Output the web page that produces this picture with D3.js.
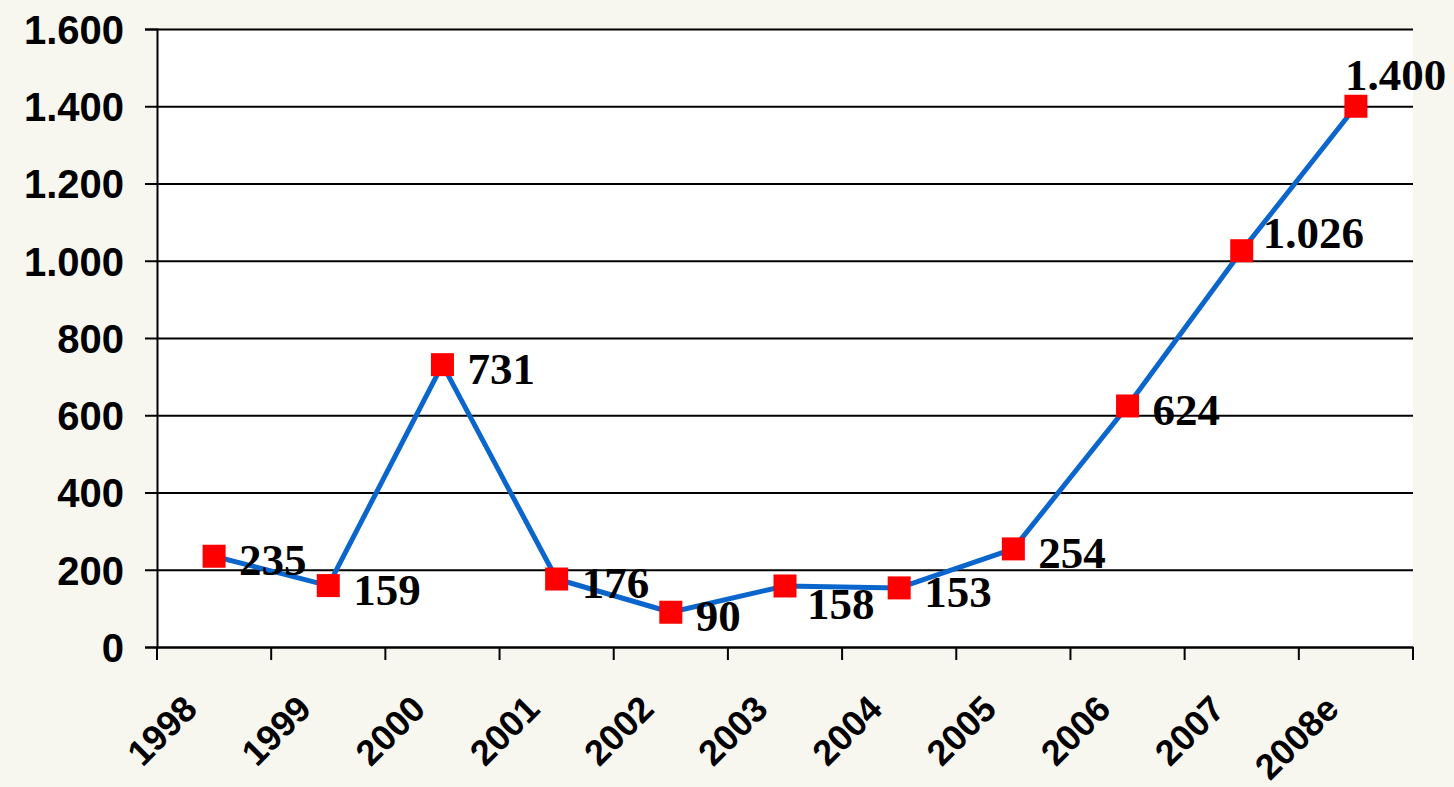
<!DOCTYPE html>
<html>
<head>
<meta charset="utf-8">
<script src="https://cdn.jsdelivr.net/npm/d3@7"></script>
<style>
  html, body { margin: 0; padding: 0; background: #f7f7f0; }
  svg { display: block; }
</style>
</head>
<body>
<div id="chart"></div>
<script>
var years = ["1998", "1999", "2000", "2001", "2002", "2003", "2004", "2005", "2006", "2007", "2008e"];
var values = [235, 159, 731, 176, 90, 158, 153, 254, 624, 1026, 1400];
var yTicks = [0, 200, 400, 600, 800, 1000, 1200, 1400, 1600];

var width = 1454;
var height = 787;
var plot = { left: 157, right: 1413, top: 29, bottom: 647 };

// german-style number format: 1.400
var loc = d3.formatLocale({ decimal: ",", thousands: ".", grouping: [3], currency: ["", "€"] });
var fmt = loc.format(",d");

var svg = d3.select("#chart")
    .append("svg")
    .attr("width", width)
    .attr("height", height)
    .style("background-color", "#f7f7f0");

// plot area
svg.append("rect")
    .attr("x", plot.left)
    .attr("y", plot.top)
    .attr("width", plot.right - plot.left)
    .attr("height", plot.bottom - plot.top)
    .attr("fill", "#ffffff");

// X
var x = d3.scaleBand()
    .domain(years)
    .range([plot.left, plot.right])
    .padding(0);

// Y
var y = d3.scaleLinear()
    .domain([0, 1600])
    .range([plot.bottom, plot.top]);

// gridlines
svg.append("g")
    .attr("transform", `translate(${plot.left}, 0)`)
    .call(d3.axisLeft(y).tickValues(yTicks).tickSize(-(plot.right - plot.left)).tickFormat(""))
    .call(g => g.select(".domain").remove())
    .selectAll("line")
    .attr("stroke", "#000")
    .attr("stroke-width", 2);

// y axis
var yAxis = svg.append("g")
    .attr("transform", `translate(${plot.left}, 0)`)
    .call(d3.axisLeft(y).tickValues(yTicks).tickSize(12).tickPadding(21).tickFormat(fmt));
yAxis.select(".domain").attr("stroke", "#000").attr("stroke-width", 2);
yAxis.selectAll("line").attr("stroke", "#000").attr("stroke-width", 2);
yAxis.selectAll("text")
    .attr("fill", "#000")
    .style("font-family", "'Liberation Sans', Arial, sans-serif")
    .style("font-weight", "bold")
    .style("font-size", "40px")
    .attr("dy", "0.36em");

// x axis
var xAxis = svg.append("g")
    .attr("transform", `translate(0, ${plot.bottom})`)
    .call(d3.axisBottom(x).tickSize(0).tickSizeOuter(0));
xAxis.select(".domain").attr("stroke", "#000").attr("stroke-width", 2);
xAxis.selectAll("text")
    .attr("fill", "#000")
    .attr("y", 0)
    .attr("dy", 0)
    .attr("text-anchor", "end")
    .attr("transform", "translate(-15, 64) rotate(-45)")
    .style("font-family", "'Liberation Sans', Arial, sans-serif")
    .style("font-weight", "bold")
    .style("font-size", "36px");

// category boundary ticks
var bounds = years.map(d => x(d)).concat([x(years[years.length - 1]) + x.bandwidth()]);
xAxis.append("g")
    .selectAll("line")
    .data(bounds)
    .enter()
    .append("line")
    .attr("x1", d => d)
    .attr("x2", d => d)
    .attr("y1", 0)
    .attr("y2", 13)
    .attr("stroke", "#000")
    .attr("stroke-width", 2);

var cx = (d, i) => x(years[i]) + x.bandwidth() / 2;

// line
var line = d3.line()
    .x((d, i) => cx(d, i))
    .y(d => y(d));

svg.append("path")
    .datum(values)
    .attr("fill", "none")
    .attr("stroke", "#0a66cc")
    .attr("stroke-width", 5)
    .attr("stroke-linejoin", "round")
    .attr("d", line);

// markers
svg.append("g")
    .selectAll("rect")
    .data(values)
    .enter()
    .append("rect")
    .attr("x", (d, i) => cx(d, i) - 11.5)
    .attr("y", d => y(d) - 11.5)
    .attr("width", 23)
    .attr("height", 23)
    .attr("fill", "#ff0000");

// data labels, right of the point; a few moved like in the original
var nudge = { "2003": [22, 33], "2007": [21, -3], "2008e": [-11, -16] };
svg.append("g")
    .selectAll("text")
    .data(values)
    .enter()
    .append("text")
    .attr("x", (d, i) => cx(d, i) + (nudge[years[i]] ? nudge[years[i]][0] : 25))
    .attr("y", (d, i) => y(d) + (nudge[years[i]] ? nudge[years[i]][1] : 19))
    .attr("fill", "#000")
    .style("font-family", "'Liberation Serif', 'Times New Roman', serif")
    .style("font-weight", "bold")
    .style("font-size", "45px")
    .text(d => fmt(d));
</script>
</body>
</html>
